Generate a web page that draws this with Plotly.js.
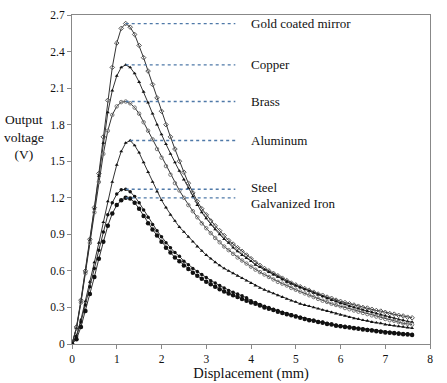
<!DOCTYPE html>
<html><head><meta charset="utf-8">
<script src="https://cdn.plot.ly/plotly-3.0.1.min.js"></script>
<style>html,body{margin:0;padding:0;background:#fff}#c{width:447px;height:383px}</style>
</head><body><div id="c"></div>
<script>
const displacement = [0.0,0.1,0.2,0.3,0.4,0.5,0.6,0.7,0.8,0.9,1.0,1.1,1.2,1.3,1.4,1.5,1.6,1.7,1.8,1.9,2.0,2.1,2.2,2.3,2.4,2.5,2.6,2.7,2.8,2.9,3.0,3.1,3.2,3.3,3.4,3.5,3.6,3.7,3.8,3.9,4.0,4.1,4.2,4.3,4.4,4.5,4.6,4.7,4.8,4.9,5.0,5.1,5.2,5.3,5.4,5.5,5.6,5.7,5.8,5.9,6.0,6.1,6.2,6.3,6.4,6.5,6.6,6.7,6.8,6.9,7.0,7.1,7.2,7.3,7.4,7.5,7.6];

const gold = [0.00,0.14,0.36,0.60,0.86,1.12,1.40,1.70,2.00,2.27,2.47,2.59,2.63,2.60,2.54,2.45,2.35,2.24,2.13,2.02,1.91,1.80,1.70,1.60,1.50,1.41,1.32,1.24,1.17,1.11,1.06,1.01,0.97,0.93,0.89,0.85,0.82,0.79,0.76,0.73,0.70,0.67,0.645,0.62,0.60,0.58,0.56,0.54,0.52,0.50,0.485,0.47,0.455,0.44,0.425,0.41,0.40,0.385,0.375,0.36,0.35,0.34,0.33,0.32,0.31,0.30,0.295,0.285,0.275,0.27,0.26,0.25,0.245,0.235,0.23,0.22,0.215];

const copper = [0.00,0.13,0.35,0.59,0.85,1.11,1.38,1.65,1.90,2.08,2.20,2.27,2.29,2.27,2.22,2.15,2.07,1.98,1.89,1.80,1.72,1.64,1.56,1.49,1.42,1.35,1.28,1.21,1.14,1.08,1.03,0.98,0.94,0.90,0.86,0.83,0.79,0.76,0.73,0.705,0.68,0.65,0.63,0.61,0.59,0.57,0.55,0.53,0.51,0.495,0.48,0.465,0.45,0.435,0.42,0.405,0.39,0.375,0.36,0.35,0.335,0.325,0.31,0.30,0.29,0.28,0.27,0.26,0.25,0.24,0.23,0.22,0.21,0.20,0.195,0.185,0.18];

const brass = [0.00,0.13,0.34,0.58,0.83,1.08,1.33,1.56,1.75,1.88,1.95,1.985,1.99,1.975,1.94,1.89,1.82,1.75,1.68,1.60,1.53,1.46,1.39,1.32,1.26,1.20,1.14,1.09,1.04,0.99,0.95,0.91,0.87,0.835,0.80,0.77,0.74,0.71,0.685,0.66,0.635,0.61,0.59,0.57,0.55,0.53,0.51,0.495,0.48,0.46,0.445,0.43,0.415,0.40,0.385,0.37,0.355,0.345,0.33,0.32,0.31,0.295,0.285,0.275,0.265,0.255,0.245,0.235,0.225,0.215,0.205,0.195,0.19,0.18,0.17,0.165,0.16];

const aluminum = [0.00,0.07,0.20,0.35,0.51,0.67,0.83,1.00,1.17,1.33,1.47,1.58,1.65,1.67,1.63,1.57,1.49,1.41,1.33,1.25,1.18,1.12,1.06,1.01,0.96,0.92,0.88,0.84,0.80,0.765,0.73,0.70,0.67,0.645,0.62,0.60,0.58,0.56,0.54,0.52,0.50,0.48,0.46,0.445,0.43,0.415,0.40,0.385,0.37,0.355,0.345,0.33,0.32,0.31,0.30,0.29,0.28,0.27,0.26,0.25,0.24,0.23,0.22,0.21,0.205,0.195,0.19,0.18,0.175,0.17,0.16,0.155,0.15,0.145,0.14,0.135,0.13];

const steel = [0.00,0.06,0.18,0.32,0.47,0.62,0.77,0.92,1.06,1.16,1.23,1.265,1.27,1.25,1.21,1.16,1.10,1.04,0.98,0.93,0.88,0.83,0.79,0.75,0.72,0.68,0.65,0.62,0.595,0.57,0.545,0.52,0.50,0.48,0.46,0.44,0.425,0.41,0.395,0.38,0.355,0.34,0.325,0.31,0.30,0.285,0.275,0.26,0.25,0.24,0.23,0.22,0.21,0.20,0.195,0.185,0.18,0.17,0.165,0.155,0.15,0.145,0.14,0.135,0.13,0.125,0.12,0.115,0.11,0.105,0.10,0.097,0.094,0.09,0.087,0.084,0.08];

const galvanized = [0.00,0.04,0.14,0.27,0.41,0.55,0.70,0.84,0.97,1.07,1.14,1.18,1.20,1.195,1.16,1.11,1.05,0.99,0.94,0.89,0.84,0.79,0.75,0.71,0.68,0.645,0.615,0.585,0.56,0.535,0.51,0.49,0.47,0.45,0.43,0.415,0.40,0.385,0.37,0.355,0.34,0.33,0.315,0.30,0.29,0.28,0.265,0.255,0.245,0.235,0.225,0.215,0.205,0.195,0.19,0.18,0.175,0.165,0.16,0.15,0.145,0.14,0.135,0.13,0.125,0.12,0.115,0.11,0.105,0.10,0.095,0.092,0.088,0.084,0.08,0.077,0.073];

const seriesNames = ["Gold coated mirror","Copper","Brass","Aluminum","Steel","Galvanized Iron"];
const seriesValues = [gold, copper, brass, aluminum, steel, galvanized];
const refLineEnd = 3.65;

const FONT = "'Liberation Serif', 'Times New Roman', Times, serif";

const markerStyles = [
  {symbol:"diamond-open", size:3.5, color:"#555", line:{width:1,color:"#555"}},
  {symbol:"triangle-up", size:3.5, color:"#111"},
  {symbol:"circle-open", size:3.5, color:"#777", line:{width:1,color:"#777"}},
  {symbol:"triangle-up", size:3.5, color:"#111"},
  {symbol:"circle", size:3.5, color:"#111"},
  {symbol:"circle", size:4.5, color:"#111"}
];
const labelShift = [0,0,0,0,2,-6];

const traces = [];
const annotations = [];
seriesValues.forEach((vals, i) => {
  traces.push({
    x: displacement, y: vals, type: "scatter", mode: "lines+markers",
    line: {color: "#333", width: 1},
    marker: markerStyles[i], showlegend: false, hoverinfo: "skip"
  });
  let pk = 0;
  vals.forEach((v, j) => { if (v > vals[pk]) pk = j; });
  traces.push({
    x: [displacement[pk], refLineEnd], y: [vals[pk], vals[pk]],
    type: "scatter", mode: "lines",
    line: {color: "#4f79a8", width: 1.3, dash: "dot"},
    showlegend: false, hoverinfo: "skip"
  });
  annotations.push({
    x: 3.96, y: vals[pk], xref: "x", yref: "y", text: seriesNames[i],
    showarrow: false, xanchor: "left", yanchor: "middle", yshift: labelShift[i],
    font: {family: FONT, size: 13, color: "#111"}
  });
});

annotations.push({
  xref: "paper", yref: "paper", x: -0.135, y: 0.628, xanchor: "center", yanchor: "middle",
  text: "Output<br>voltage<br>(V)", showarrow: false, align: "center",
  font: {family: FONT, size: 13.5, color: "#111"}
});

const axisFont = {family: FONT, size: 11.5, color: "#111"};
const layout = {
  width: 447, height: 383,
  margin: {l: 72, r: 17, t: 15, b: 39},
  paper_bgcolor: "#fff", plot_bgcolor: "#fff",
  xaxis: {
    range: [0, 8], dtick: 1, tick0: 0, showgrid: false, zeroline: false,
    showline: true, mirror: true, linecolor: "#888", linewidth: 1,
    ticks: "outside", ticklen: 4, tickcolor: "#888", tickfont: axisFont,
    title: {text: "Displacement (mm)", standoff: 2,
      font: {family: FONT, size: 14.5, color: "#111"}}
  },
  yaxis: {
    range: [0, 2.7], dtick: 0.3, tick0: 0, showgrid: false, zeroline: false,
    showline: true, mirror: true, linecolor: "#888", linewidth: 1,
    ticks: "outside", ticklen: 4, tickcolor: "#888", tickfont: axisFont
  },
  annotations: annotations,
  font: {family: FONT}
};

Plotly.newPlot("c", traces, layout, {staticPlot: true, displayModeBar: false});
</script>
</body></html>
